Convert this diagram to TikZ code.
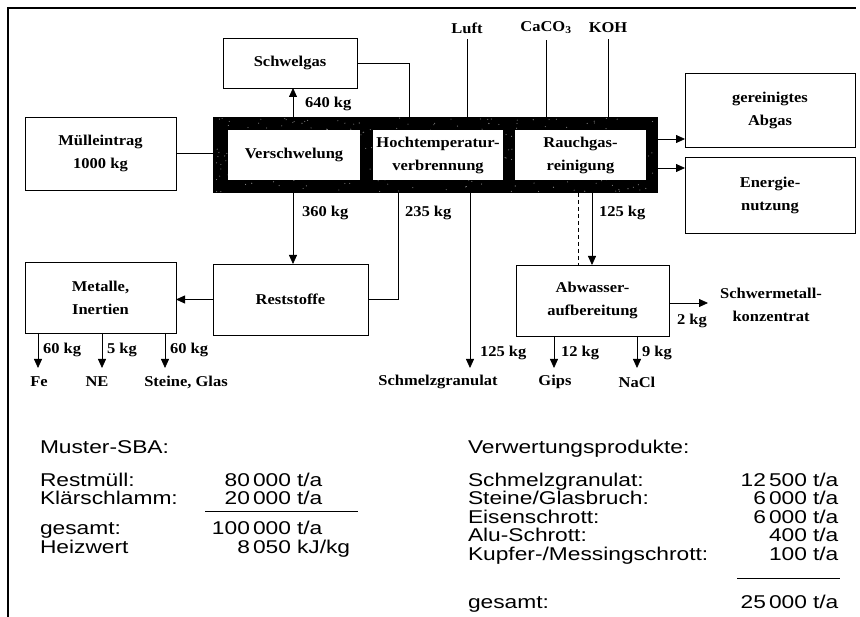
\documentclass[tikz,border=0pt]{standalone}
\usepackage{fontspec}
\setmainfont{Liberation Serif}
\newfontfamily\diafont[FakeStretch=1.1]{Liberation Serif}
\newfontfamily\tabfont[FakeStretch=1.23]{Liberation Sans}
\usetikzlibrary{arrows.meta}
\begin{document}
\begin{tikzpicture}[x=1pt,y=-1pt,
  every node/.style={inner sep=0pt, outer sep=0pt},
  dtext/.style={font=\diafont\bfseries\fontsize{15}{23}\selectfont, align=center},
  pbox/.style={draw, line width=0.9pt, dtext},
  ibox/.style={fill=white, dtext},
  lab/.style={font=\diafont\bfseries\fontsize{15}{18}\selectfont},
  ttext/.style={font=\tabfont\fontsize{18.5}{19}\selectfont},
  conn/.style={line width=0.8pt},
  arr/.style={conn, -{Triangle[length=9pt,width=8pt]}},
]
\useasboundingbox (0,0) rectangle (860,617);
% partial outer frame
\draw[line width=1.1pt] (8,617) -- (8,8) -- (856,8);

% boxes
\node[pbox, minimum width=151, minimum height=73] (muell) at (100.5,153.5) {Mülleintrag\\1000 kg};
\node[pbox, minimum width=134, minimum height=50] (schwel) at (290,63) {Schwelgas};
\node[fill=black, minimum width=445, minimum height=76] (frame) at (435.5,155) {};
\pgfmathsetseed{11}
\foreach \i in {1,...,320}{\fill[black!45] ({214+443*rnd},{118+74*rnd}) circle (0.55);}
\node[ibox, minimum width=132, minimum height=50] (versch) at (294,155) {Verschwelung};
\node[ibox, minimum width=130, minimum height=50] (hoch) at (438,155) {Hochtemperatur-\\verbrennung};
\node[ibox, minimum width=131, minimum height=50] (rauch) at (580.5,155) {Rauchgas-\\reinigung};
\node[pbox, minimum width=170, minimum height=74] (abgas) at (770,110) {gereinigtes\\Abgas};
\node[pbox, minimum width=170, minimum height=76] (energie) at (770,195) {Energie-\\nutzung};
\node[pbox, minimum width=155, minimum height=71] (rest) at (290.5,299.5) {Reststoffe};
\node[pbox, minimum width=151, minimum height=71] (metall) at (100.5,297.5) {Metalle,\\Inertien};
\node[pbox, minimum width=153, minimum height=71] (abw) at (592.5,300.5) {Abwasser-\\aufbereitung};

% input labels
\node[lab] (luft) at (467,28) {Luft};
\node[lab] (caco) at (546,28) {CaCO\textsubscript{3}};
\node[lab] (koh) at (608,28) {KOH};

% output texts
\node[dtext] (fe) at (39,382) {Fe};
\node[dtext] (ne) at (97,382) {NE};
\node[dtext] (steine) at (186,382) {Steine, Glas};
\node[dtext] (schmelz) at (438,382) {Schmelzgranulat};
\node[dtext] (gips) at (555,382) {Gips};
\node[dtext] (nacl) at (637,382) {NaCl};
\node[dtext] (schwer) at (771,305) {Schwermetall-\\konzentrat};

% helper coordinates
\coordinate (x38) at (38,0);
\coordinate (x102) at (102,0);
\coordinate (x165) at (165,0);
\coordinate (x293) at (293,0);
\coordinate (x398) at (398,0);
\coordinate (x409) at (409,0);
\coordinate (x470) at (470,0);
\coordinate (x554) at (554,0);
\coordinate (x578) at (578,0);
\coordinate (x592) at (592,0);
\coordinate (x637) at (637,0);
\coordinate (y139) at (0,139);
\coordinate (y168) at (0,168);
\coordinate (y368) at (0,368);
\coordinate (sm) at (708,303);
\coordinate (y303) at (0,303);

% connectors
\draw[conn] (muell.east) -- (frame.west |- muell.east);
\draw[arr] (frame.north -| x293) -- (schwel.south -| x293);
\draw[conn] (schwel.east) -| (frame.north -| x409);
\draw[conn, shorten <=6pt] (luft.south) -- (luft.south |- frame.north);
\draw[conn, shorten <=6pt] (caco.south) -- (caco.south |- frame.north);
\draw[conn, shorten <=6pt] (koh.south) -- (koh.south |- frame.north);
\draw[arr] (frame.east |- y139) -- (abgas.west |- y139);
\draw[arr] (frame.east |- y168) -- (energie.west |- y168);
\draw[arr] (frame.south -| x293) -- (rest.north -| x293);
\draw[conn] (frame.south -| x398) |- (rest.east);
\draw[arr] (rest.west) -- (metall.east |- rest.west);
\draw[arr] (metall.south -| x38) -- (x38 |- y368);
\draw[arr] (metall.south -| x102) -- (x102 |- y368);
\draw[arr] (metall.south -| x165) -- (x165 |- y368);
\draw[arr] (frame.south -| x470) -- (x470 |- y368);
\draw[conn, dash pattern=on 4pt off 3pt] (frame.south -| x578) -- (abw.north -| x578);
\draw[arr] (frame.south -| x592) -- (abw.north -| x592);
\draw[arr] (abw.east |- y303) -- (sm);
\draw[arr] (abw.south -| x554) -- (x554 |- y368);
\draw[arr] (abw.south -| x637) -- (x637 |- y368);

% flow labels
\node[lab, anchor=west] (l640) at (305,104) {640 kg};
\node[lab, anchor=west] (l360) at (302,213) {360 kg};
\node[lab, anchor=west] (l235) at (405,213) {235 kg};
\node[lab, anchor=west] (l125a) at (599,213) {125 kg};
\node[lab, anchor=west] (l60a) at (43,350) {60 kg};
\node[lab, anchor=west] (l5) at (107,350) {5 kg};
\node[lab, anchor=west] (l60b) at (170,350) {60 kg};
\node[lab, anchor=west] (l125b) at (480,353) {125 kg};
\node[lab, anchor=west] (l12) at (561,353) {12 kg};
\node[lab, anchor=west] (l9) at (642,353) {9 kg};
\node[lab] (l2) at (692,321) {2 kg};

% left table
\node[ttext, anchor=base west] (t1) at (40,454) {Muster-SBA:};
\node[ttext, anchor=base west] (t2) at (40,486) {Restmüll:};
\node[ttext, anchor=base east] (t2v) at (291,486) {80\,000};
\node[ttext, anchor=base west] (t2u) at (297,486) {t/a};
\node[ttext, anchor=base west] (t3) at (40,505) {Klärschlamm:};
\node[ttext, anchor=base east] (t3v) at (291,505) {20\,000};
\node[ttext, anchor=base west] (t3u) at (297,505) {t/a};
\coordinate (la) at (205,512);
\coordinate (lb) at (358,512);
\draw[line width=1pt] (la) -- (lb);
\node[ttext, anchor=base west] (t4) at (40,534) {gesamt:};
\node[ttext, anchor=base east] (t4v) at (291,534) {100\,000};
\node[ttext, anchor=base west] (t4u) at (297,534) {t/a};
\node[ttext, anchor=base west] (t5) at (40,553) {Heizwert};
\node[ttext, anchor=base east] (t5v) at (291,553) {8\,050};
\node[ttext, anchor=base west] (t5u) at (297,553) {kJ/kg};

% right table
\node[ttext, anchor=base west] (r0) at (468,454) {Verwertungsprodukte:};
\node[ttext, anchor=base west] (r1) at (468,486) {Schmelzgranulat:};
\node[ttext, anchor=base east] (r1v) at (807,486) {12\,500};
\node[ttext, anchor=base west] (r1u) at (813,486) {t/a};
\node[ttext, anchor=base west] (r2) at (468,504) {Steine/Glasbruch:};
\node[ttext, anchor=base east] (r2v) at (807,504) {6\,000};
\node[ttext, anchor=base west] (r2u) at (813,504) {t/a};
\node[ttext, anchor=base west] (r3) at (468,523) {Eisenschrott:};
\node[ttext, anchor=base east] (r3v) at (807,523) {6\,000};
\node[ttext, anchor=base west] (r3u) at (813,523) {t/a};
\node[ttext, anchor=base west] (r4) at (468,541) {Alu-Schrott:};
\node[ttext, anchor=base east] (r4v) at (807,541) {400};
\node[ttext, anchor=base west] (r4u) at (813,541) {t/a};
\node[ttext, anchor=base west] (r5) at (468,560) {Kupfer-/Messingschrott:};
\node[ttext, anchor=base east] (r5v) at (807,560) {100};
\node[ttext, anchor=base west] (r5u) at (813,560) {t/a};
\coordinate (ra) at (737,578);
\coordinate (rb) at (840,578);
\draw[line width=1pt] (ra) -- (rb);
\node[ttext, anchor=base west] (r6) at (468,608) {gesamt:};
\node[ttext, anchor=base east] (r6v) at (807,608) {25\,000};
\node[ttext, anchor=base west] (r6u) at (813,608) {t/a};
\end{tikzpicture}
\end{document}
